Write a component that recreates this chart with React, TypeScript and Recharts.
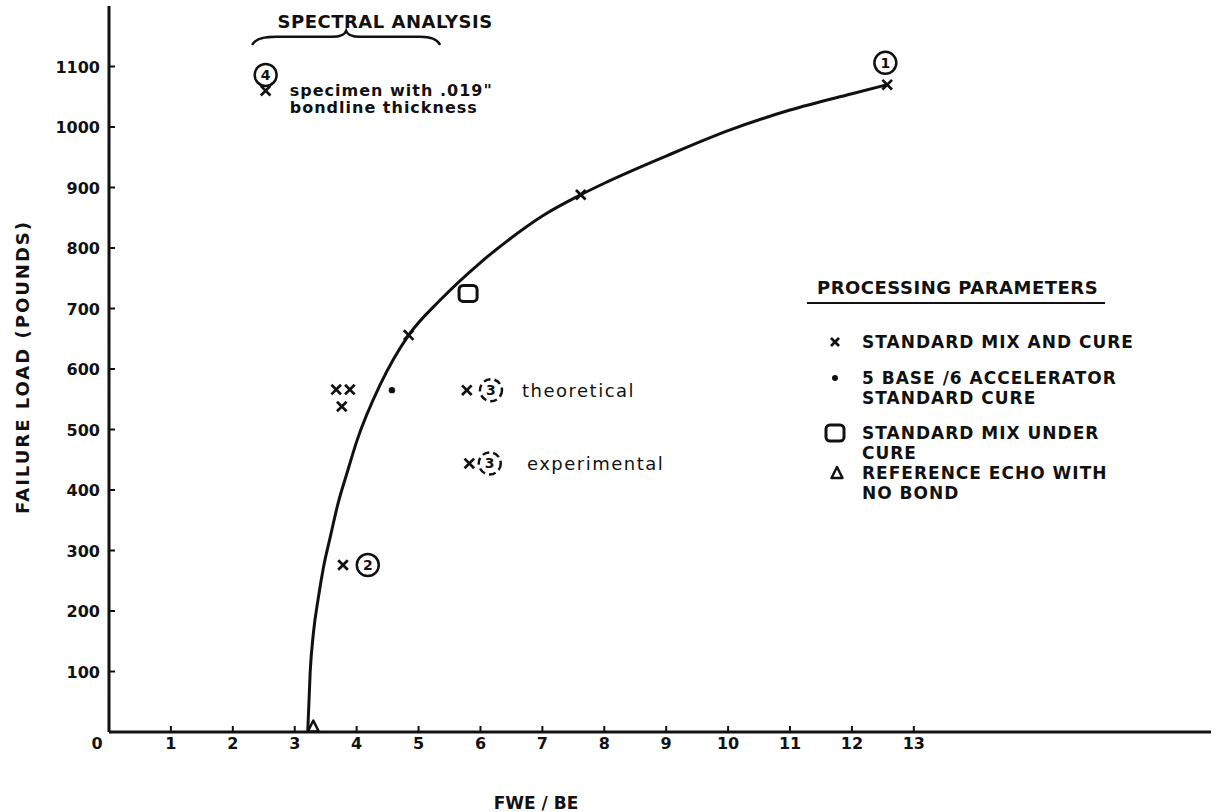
import { ComposedChart, Line, Scatter, XAxis, YAxis, Legend, Label } from "recharts";

// axis ticks
const xTicks = [0, 1, 2, 3, 4, 5, 6, 7, 8, 9, 10, 11, 12, 13];
const yTicks = [100, 200, 300, 400, 500, 600, 700, 800, 900, 1000, 1100];

// fitted curve
const curveX = [3.21, 3.25, 3.3, 3.38, 3.46, 3.58, 3.7, 3.85, 4.0, 4.38, 4.84, 5.35, 6.0, 6.5, 7.0, 7.62, 8, 9, 10, 11, 12, 12.57];
const curveY = [0, 100, 162, 221, 270, 325, 378, 430, 480, 574, 656, 714, 776, 817, 853, 888, 907, 952, 994, 1028, 1055, 1070];

// standard mix and cure (x marks)
const stdX = [2.53, 3.67, 3.89, 3.76, 3.78, 4.84, 5.78, 5.82, 7.62, 12.57];
const stdY = [1060, 566, 566, 538, 276, 656, 565, 444, 888, 1070];

// 5 base / 6 accelerator
const dotX = [4.57];
const dotY = [565];

// standard mix under cure
const squareX = [5.8];
const squareY = [725];

// reference echo, no bond
const triX = [3.3];
const triY = [9];

// circled specimen numbers
const circleNum = ["1", "2", "3", "3", "4"];
const circleX = [12.54, 4.18, 6.17, 6.15, 2.53];
const circleY = [1106, 276, 565, 444, 1086];
const circleDashed = [false, false, true, true, false];

// notes
const noteText = ["theoretical", "experimental", "specimen with .019\"", "bondline thickness", "SPECTRAL ANALYSIS"];
const noteX = [6.67, 6.75, 2.92, 2.92, 4.46];
const noteY = [565, 444, 1061, 1032, 1175];
const noteKind = ["plain", "plain", "bold", "bold", "title"];

// brace under the spectral analysis heading
const braceX = [3.83];
const braceY = [1149];

const legendTitle = "PROCESSING PARAMETERS";
const legendSymbols = ["x", "dot", "square", "triangle"];
const legendLines = [
  ["STANDARD MIX AND CURE"],
  ["5 BASE /6 ACCELERATOR", "STANDARD CURE"],
  ["STANDARD MIX UNDER", "CURE"],
  ["REFERENCE ECHO WITH", "NO BOND"],
];

const zip = (xs: number[], ys: number[]) => xs.map((x, i) => ({ x, y: ys[i] }));

const curveData = zip(curveX, curveY);
const stdData = zip(stdX, stdY);
const dotData = zip(dotX, dotY);
const squareData = zip(squareX, squareY);
const triData = zip(triX, triY);
const braceData = zip(braceX, braceY);
const circleData = circleX.map((x, i) => ({ x, y: circleY[i], n: circleNum[i], dashed: circleDashed[i] }));
const noteData = noteX.map((x, i) => ({ x, y: noteY[i], text: noteText[i], kind: noteKind[i] }));

const FONT = "DejaVu Sans";
const INK = "#111";

function XMark(cx: number, cy: number, s = 4.8) {
  return (
    <g>
      <line x1={cx - s} y1={cy - s} x2={cx + s} y2={cy + s} stroke={INK} strokeWidth={2.7} />
      <line x1={cx - s} y1={cy + s} x2={cx + s} y2={cy - s} stroke={INK} strokeWidth={2.7} />
    </g>
  );
}

function Tri(cx: number, cy: number) {
  return <path d={`M${cx - 5.5},${cy + 5} L${cx},${cy - 6} L${cx + 5.5},${cy + 5} Z`} fill="none" stroke={INK} strokeWidth={2.5} strokeLinejoin="round" />;
}

function Square(cx: number, cy: number) {
  return <rect x={cx - 9} y={cy - 8} width={18} height={16} rx={4} fill="none" stroke={INK} strokeWidth={3} />;
}

function XTick({ x, y, payload }: any) {
  const v = payload.value;
  return (
    <g>
      {v !== 0 && <line x1={x} y1={y} x2={x} y2={y - 6} stroke={INK} strokeWidth={2} />}
      <text x={v === 0 ? x - 12 : x} y={y + 17} textAnchor="middle" fontSize={16} fontWeight="bold" fontFamily={FONT} fill={INK}>
        {v}
      </text>
    </g>
  );
}

function YTick({ x, y, payload }: any) {
  return (
    <g>
      <line x1={x} y1={y} x2={x + 6} y2={y} stroke={INK} strokeWidth={2} />
      <text x={x - 9} y={y + 6} textAnchor="end" fontSize={16} fontWeight="bold" fontFamily={FONT} fill={INK}>
        {payload.value}
      </text>
    </g>
  );
}

function LegendBox() {
  const rows = [74, 110, 165, 205];
  return (
    <svg width={410} height={240} style={{ display: "block" }}>
      <text x={17} y={26} fontSize={18} fontWeight="bold" fontFamily={FONT} letterSpacing={0.5} fill={INK}>
        {legendTitle}
      </text>
      <line x1={7} y1={35} x2={305} y2={35} stroke={INK} strokeWidth={2} />
      {legendSymbols.map((s, i) => {
        const cy = rows[i];
        return (
          <g key={s}>
            {s === "x" && XMark(35, cy, 4)}
            {s === "dot" && <circle cx={35} cy={cy} r={3} fill={INK} />}
            {s === "square" && Square(35, cy)}
            {s === "triangle" && Tri(37, cy)}
            {legendLines[i].map((t, j) => (
              <text key={t} x={62} y={cy + 6 + j * 20} fontSize={17} fontWeight="bold" fontFamily={FONT} letterSpacing={1} fill={INK}>
                {t}
              </text>
            ))}
          </g>
        );
      })}
    </svg>
  );
}

export default function App() {
  return (
    <div style={{ position: "absolute", left: 0, top: 0, width: 1218, height: 812, background: "#fff" }}>
      <ComposedChart width={1218} height={812} margin={{ top: 6, right: 7, left: 9, bottom: 50 }}>
        <XAxis
          type="number"
          dataKey="x"
          domain={[0, 17.8]}
          ticks={xTicks}
          interval={0}
          allowDataOverflow
          height={30}
          tickSize={0}
          tickMargin={0}
          tickLine={false}
          axisLine={{ stroke: INK, strokeWidth: 3 }}
          tick={<XTick />}
        >
          <Label
            content={({ viewBox }: any) => (
              <text x={viewBox.x + 427} y={viewBox.y + 77} textAnchor="middle" fontSize={17} fontWeight="bold" fontFamily={FONT} fill={INK}>
                FWE / BE
              </text>
            )}
          />
        </XAxis>
        <YAxis
          type="number"
          dataKey="y"
          domain={[0, 1200]}
          ticks={yTicks}
          interval={0}
          allowDataOverflow
          width={100}
          tickSize={0}
          tickMargin={0}
          tickLine={false}
          axisLine={{ stroke: INK, strokeWidth: 3 }}
          tick={<YTick />}
        >
          <Label
            content={({ viewBox }: any) => {
              const cx = 22;
              const cy = viewBox.y + viewBox.height / 2 - 2;
              return (
                <text x={cx} y={cy} transform={`rotate(-90 ${cx} ${cy})`} textAnchor="middle" dominantBaseline="central" fontSize={18} fontWeight="bold" letterSpacing={2} fontFamily={FONT} fill={INK}>
                  FAILURE LOAD (POUNDS)
                </text>
              );
            }}
          />
        </YAxis>

        <Line data={curveData} dataKey="y" type="monotone" stroke={INK} strokeWidth={3} dot={false} isAnimationActive={false} />

        <Scatter data={stdData} isAnimationActive={false} shape={(p: any) => XMark(p.cx, p.cy)} />
        <Scatter data={dotData} isAnimationActive={false} shape={(p: any) => <circle cx={p.cx} cy={p.cy} r={3.2} fill={INK} />} />
        <Scatter data={squareData} isAnimationActive={false} shape={(p: any) => Square(p.cx, p.cy)} />
        <Scatter data={triData} isAnimationActive={false} shape={(p: any) => Tri(p.cx, p.cy)} />

        <Scatter
          data={circleData}
          isAnimationActive={false}
          shape={(p: any) => (
            <g>
              <circle cx={p.cx} cy={p.cy} r={11} fill="#fff" stroke={INK} strokeWidth={2.5} strokeDasharray={p.payload.dashed ? "7 4" : undefined} />
              <text x={p.cx} y={p.cy + 5} textAnchor="middle" fontSize={14} fontWeight="bold" fontFamily={FONT} fill={INK}>
                {p.payload.n}
              </text>
            </g>
          )}
        />

        <Scatter
          data={noteData}
          isAnimationActive={false}
          shape={(p: any) => {
            const k = p.payload.kind;
            return (
              <text
                x={p.cx}
                y={p.cy}
                dominantBaseline="central"
                textAnchor={k === "title" ? "middle" : "start"}
                fontSize={k === "bold" ? 16 : 18}
                fontWeight={k === "plain" ? "normal" : "bold"}
                letterSpacing={k === "plain" ? 1.5 : k === "bold" ? 1 : 0.5}
                fontFamily={FONT}
                fill={INK}
              >
                {p.payload.text}
              </text>
            );
          }}
        />

        <Scatter
          data={braceData}
          isAnimationActive={false}
          shape={(p: any) => (
            <path
              d={`M${p.cx - 94},${p.cy + 8} Q${p.cx - 90},${p.cy} ${p.cx - 70},${p.cy} L${p.cx - 14},${p.cy} Q${p.cx - 2},${p.cy} ${p.cx},${p.cy - 6} Q${p.cx + 2},${p.cy} ${p.cx + 14},${p.cy} L${p.cx + 74},${p.cy} Q${p.cx + 90},${p.cy} ${p.cx + 94},${p.cy + 8}`}
              fill="none"
              stroke={INK}
              strokeWidth={2.5}
            />
          )}
        />

        <Legend
          layout="horizontal"
          verticalAlign="middle"
          align="center"
          content={<LegendBox />}
          wrapperStyle={{ position: "absolute", left: 800, top: 268, width: 410, height: 240 }}
        />
      </ComposedChart>
    </div>
  );
}
